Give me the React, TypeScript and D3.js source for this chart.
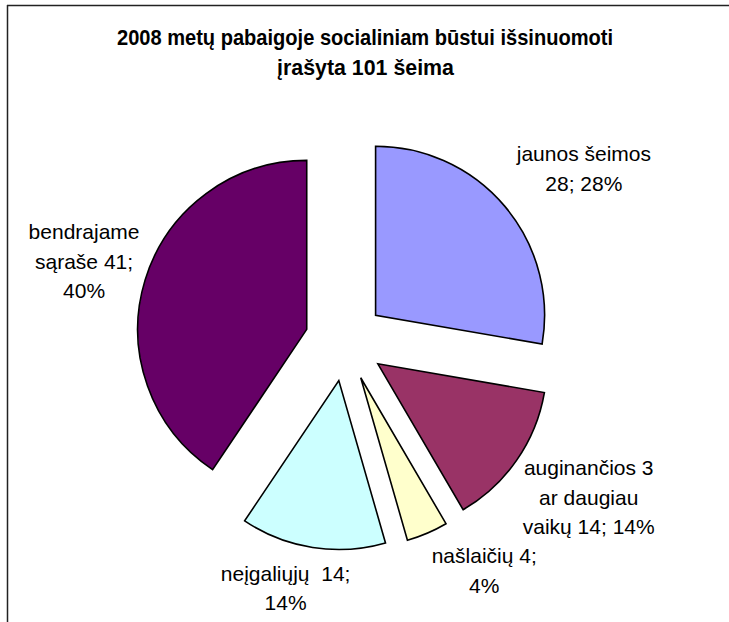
import React from "react";
import * as d3 from "d3";

const categories = ["jaunos šeimos", "auginančios 3 ar daugiau vaikų", "našlaičių", "neįgaliųjų", "bendrajame sąraše"];
const values = [28, 14, 4, 14, 41];
const labelLines = [
  ["jaunos šeimos", "28; 28%"],
  ["auginančios 3", "ar daugiau", "vaikų 14; 14%"],
  ["našlaičių 4;", "4%"],
  ["neįgaliųjų  14;", "14%"],
  ["bendrajame", "sąraše 41;", "40%"],
];
const colors = ["#9999FF", "#993366", "#FFFFCC", "#CCFFFF", "#660066"];
const titleLines = ["2008 metų pabaigoje socialiniam būstui išsinuomoti", "įrašyta 101 šeima"];

// layout / style
const W = 729;
const H = 622;
const CX = 345;
const CY = 341;
const R = 169;
const EXPLODE = 40;
const LINE_H = 29.5;
const labelNudge: [number, number][] = [
  [79, -45],
  [72, 15],
  [57, 30],
  [-27, 33.5],
  [-61, -41],
];

export default function App() {
  const pie = d3
    .pie<number>()
    .sort(null)
    .value((d) => d)
    .startAngle(0)
    .endAngle(2 * Math.PI);
  const arcs = pie(values);
  const arc = d3.arc<d3.PieArcDatum<number>>().innerRadius(0).outerRadius(R);
  const font = "'Liberation Sans', Arial, sans-serif";

  return (
    <svg
      width={W}
      height={H}
      style={{ position: "absolute", left: 0, top: 0, background: "#fff" }}
      fontFamily={font}
    >
      <rect x={0} y={0} width={W} height={H} fill="#fff" />
      <line x1={7} y1={5.5} x2={W} y2={5.5} stroke="#222" strokeWidth={1.5} />
      <line x1={7.5} y1={5} x2={7.5} y2={H} stroke="#222" strokeWidth={1.5} />
      <text x={365} y={45} textAnchor="middle" fontWeight="bold" fontSize={22} textLength={496} lengthAdjust="spacingAndGlyphs">
        {titleLines[0]}
      </text>
      <text x={365.5} y={75} textAnchor="middle" fontWeight="bold" fontSize={22} textLength={177} lengthAdjust="spacingAndGlyphs">
        {titleLines[1]}
      </text>
      {arcs.map((a, i) => {
        const mid = (a.startAngle + a.endAngle) / 2;
        const dx = Math.sin(mid) * EXPLODE;
        const dy = -Math.cos(mid) * EXPLODE;
        return (
          <path
            key={categories[i]}
            d={arc(a) || ""}
            transform={`translate(${CX + dx},${CY + dy})`}
            fill={colors[i]}
            stroke="#000"
            strokeWidth={1.6}
            strokeLinejoin="miter"
          />
        );
      })}
      {arcs.map((a, i) => {
        const mid = (a.startAngle + a.endAngle) / 2;
        const bx = CX + Math.sin(mid) * (R + EXPLODE);
        const by = CY - Math.cos(mid) * (R + EXPLODE);
        const x = bx + labelNudge[i][0];
        const y = by + labelNudge[i][1];
        return (
          <text key={"l" + i} textAnchor="middle" fontSize={21} fill="#000" style={{ whiteSpace: "pre" }}>
            {labelLines[i].map((ln, j) => (
              <tspan key={j} x={x} y={y + j * LINE_H}>
                {ln}
              </tspan>
            ))}
          </text>
        );
      })}
    </svg>
  );
}
